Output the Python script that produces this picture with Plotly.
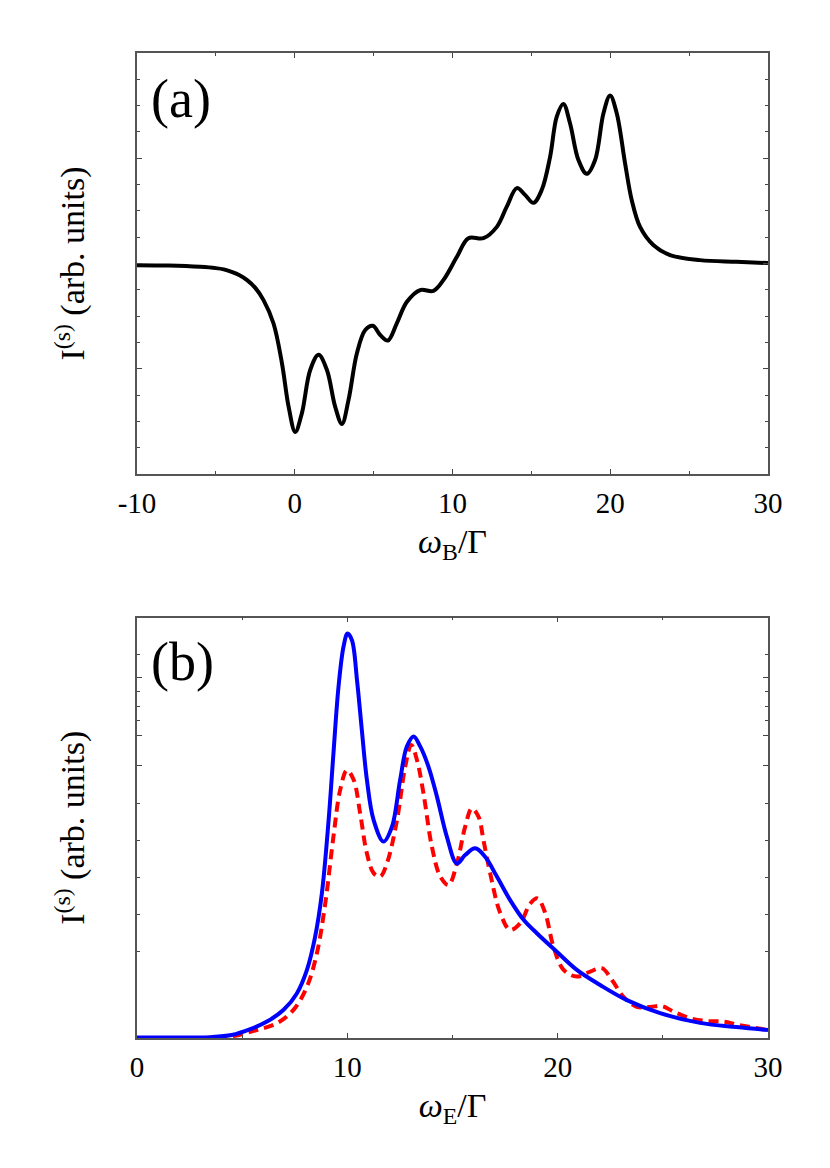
import plotly.graph_objects as go
from plotly.subplots import make_subplots

# panel (a): I(s) vs omega_B / Gamma (arb. units, 0..1 of frame height)
omega_b = [-10, -8, -6, -5, -4.5, -4, -3.5, -3, -2.5, -1.98, -1.35, -0.81, -0.39, 0.03, 0.45,
           0.98, 1.51, 2.04, 2.56, 2.99, 3.41, 3.94, 4.47, 4.95, 5.42, 5.9, 6.47, 7.11, 7.95,
           8.79, 9.43, 10.28, 11.01, 11.96, 12.81, 13.44, 14.08, 14.6, 15.13, 15.66, 16.19,
           16.61, 17.03, 17.45, 17.98, 18.51, 19.04, 19.57, 19.99, 20.41, 20.94, 21.36,
           21.89, 22.73, 23.79, 25.69, 28, 30]
signal_a = [0.496, 0.495, 0.492, 0.489, 0.486, 0.48, 0.472, 0.46, 0.442, 0.413, 0.358, 0.263,
            0.16, 0.1, 0.144, 0.247, 0.283, 0.247, 0.16, 0.119, 0.176, 0.287, 0.342, 0.352,
            0.33, 0.317, 0.358, 0.409, 0.437, 0.435, 0.461, 0.516, 0.56, 0.56, 0.587, 0.635,
            0.679, 0.663, 0.644, 0.675, 0.754, 0.849, 0.879, 0.833, 0.746, 0.713, 0.746,
            0.857, 0.899, 0.857, 0.738, 0.651, 0.587, 0.544, 0.52, 0.508, 0.504, 0.501]

# panel (b): I(s) vs omega_E / Gamma, solid blue and dashed red
omega_e_blue = [0, 2, 3.5, 4.5, 5.39, 6.18, 6.97, 7.6, 8.08, 8.47, 8.79, 9.11, 9.34, 9.58,
                9.82, 10.01, 10.22, 10.46, 10.69, 10.93, 11.25, 11.72, 12.12, 12.51, 12.83,
                13.15, 13.47, 13.86, 14.26, 14.73, 15.21, 15.6, 16.08, 16.55, 17.11, 17.74,
                18.38, 19.01, 19.96, 20.91, 22.02, 23.29, 24.87, 26.77, 28.5, 30]
signal_blue = [0.001, 0.001, 0.002, 0.007, 0.021, 0.039, 0.067, 0.106, 0.162, 0.241, 0.344,
               0.518, 0.677, 0.835, 0.931, 0.962, 0.946, 0.851, 0.732, 0.614, 0.518, 0.467,
               0.502, 0.614, 0.693, 0.717, 0.693, 0.645, 0.574, 0.479, 0.415, 0.435, 0.451,
               0.431, 0.384, 0.328, 0.281, 0.249, 0.205, 0.162, 0.126, 0.09, 0.059, 0.036,
               0.026, 0.019]

omega_e_red = [0, 3, 4.5, 5.7, 6.65, 7.44, 8.08, 8.55, 8.95, 9.34, 9.66, 9.98, 10.3, 10.61,
               10.93, 11.25, 11.56, 11.88, 12.36, 12.75, 13.04, 13.31, 13.62, 14.02, 14.42,
               14.81, 15.21, 15.6, 15.92, 16.24, 16.47, 16.79, 17.27, 17.74, 18.22, 18.7,
               19.04, 19.41, 19.8, 20.28, 20.91, 21.55, 22.1, 22.58, 23.13, 23.76, 24.4,
               24.95, 25.5, 26.3, 27.2, 27.9, 28.6, 30]
signal_red = [0.0, 0.0, 0.004, 0.019, 0.035, 0.067, 0.122, 0.201, 0.32, 0.479, 0.59, 0.637,
              0.614, 0.534, 0.439, 0.392, 0.384, 0.415, 0.518, 0.645, 0.697, 0.661, 0.582,
              0.455, 0.384, 0.364, 0.415, 0.502, 0.546, 0.526, 0.471, 0.392, 0.297, 0.257,
              0.273, 0.32, 0.332, 0.297, 0.217, 0.162, 0.146, 0.158, 0.166, 0.138, 0.098,
              0.074, 0.074, 0.076, 0.063, 0.047, 0.04, 0.039, 0.031, 0.019]

font = '"Liberation Serif", "Times New Roman", "DejaVu Serif", serif'

fig = make_subplots(rows=2, cols=1)

fig.add_trace(go.Scatter(x=omega_b, y=signal_a, mode='lines', line_shape='spline',
                         line=dict(color='black', width=4)), row=1, col=1)
fig.add_trace(go.Scatter(x=omega_e_red, y=signal_red, mode='lines', line_shape='spline',
                         line=dict(color='#ff0000', width=4, dash='10px,6px')), row=2, col=1)
fig.add_trace(go.Scatter(x=omega_e_blue, y=signal_blue, mode='lines', line_shape='spline',
                         line=dict(color='#0000ff', width=4)), row=2, col=1)

frame = dict(showline=True, linecolor='#555555', linewidth=1.5, mirror='ticks',
             ticks='inside', ticklen=5, tickwidth=1, tickcolor='#444444',
             showgrid=False, zeroline=False,
             tickfont=dict(family=font, size=29, color='black'))

fig.update_xaxes(**frame)
fig.update_yaxes(**frame)

fig.update_xaxes(range=[-10, 30], tickvals=[-10, 0, 10, 20, 30],
                 ticktext=['-10', '0', '10', '20', '30'], ticklabelstandoff=2,
                 minor=dict(tickvals=[-5, 5, 15, 25], ticks='inside', ticklen=3,
                            tickcolor='#444444'),
                 title=dict(text='<i>ω</i><sub>B</sub>/Γ', standoff=12,
                            font=dict(family=font, size=34, color='black')),
                 domain=[0, 1], row=1, col=1)
fig.update_xaxes(range=[0, 30], tickvals=[0, 10, 20, 30], ticklabelstandoff=2,
                 minor=dict(tickvals=[5, 15, 25], ticks='inside', ticklen=3,
                            tickcolor='#444444'),
                 title=dict(text='<i>ω</i><sub>E</sub>/Γ', standoff=12,
                            font=dict(family=font, size=34, color='black')),
                 domain=[0, 1], row=2, col=1)

ytitle = dict(text='I<sup>(s)</sup> (arb. units)', standoff=40,
              font=dict(family=font, size=34, color='black'))

fig.update_yaxes(range=[0, 1], tickvals=[0.25, 0.5, 0.75], showticklabels=False,
                 minor=dict(tickvals=[k / 16 for k in range(1, 16)], ticks='inside',
                            ticklen=3, tickcolor='#444444'),
                 title=ytitle, domain=[0.5726, 1], row=1, col=1)
fig.update_yaxes(range=[0, 1], tickvals=[0.858, 0.719, 0.647], showticklabels=False,
                 minor=dict(tickvals=[0.911, 0.823, 0.789, 0.754, 0.558, 0.47, 0.382,
                                      0.294, 0.205], ticks='inside', ticklen=3,
                            tickcolor='#444444'),
                 title=ytitle, domain=[0, 0.4269], row=2, col=1)

fig.add_annotation(text='(a)', x=0.019, y=0.89, xref='x domain', yref='y domain',
                   xanchor='left', yanchor='middle', showarrow=False,
                   font=dict(family=font, size=54, color='black'))
fig.add_annotation(text='(b)', x=0.019, y=0.894, xref='x2 domain', yref='y2 domain',
                   xanchor='left', yanchor='middle', showarrow=False,
                   font=dict(family=font, size=54, color='black'))

# page body adds an 8 px offset, so margins are trimmed by that amount
fig.update_layout(width=830, height=1168, showlegend=False,
                  margin=dict(l=129, r=70, t=45, b=138),
                  plot_bgcolor='white', paper_bgcolor='white',
                  font=dict(family=font, color='black'))

fig.write_html('out.html')
